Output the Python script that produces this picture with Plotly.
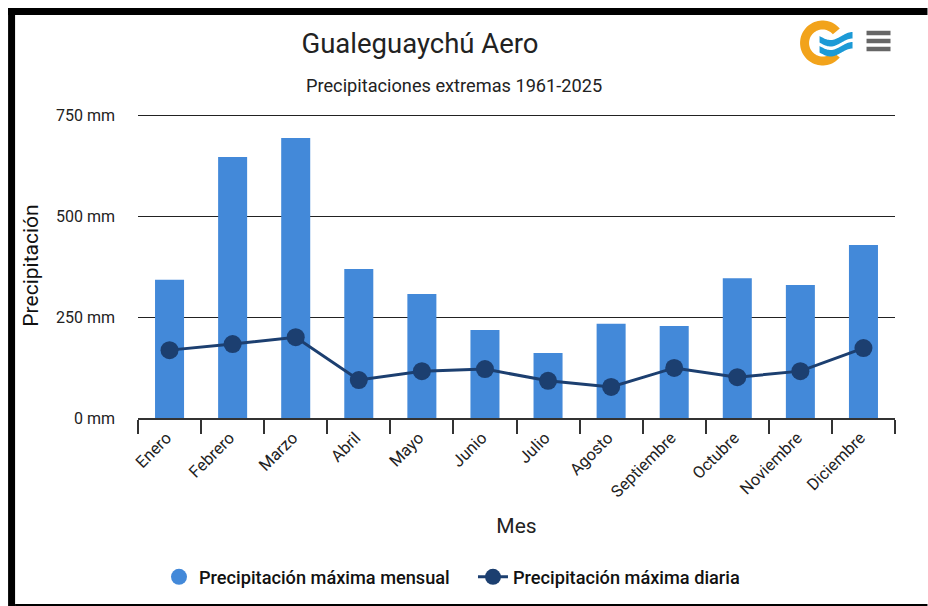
import numpy as np
import plotly.graph_objects as go

months = ["Enero","Febrero","Marzo","Abril","Mayo","Junio","Julio","Agosto","Septiembre","Octubre","Noviembre","Diciembre"]
max_mensual = [342,646,693,369,307,218,161,233,228,346,329,428]
max_diaria = [168,183,200,94,116,121,92,77,124,101,116,173]
name_mensual = "Precipitación máxima mensual"
name_diaria = "Precipitación máxima diaria"
y_ticks = [0,250,500,750]
y_tick_labels = ["0 mm","250 mm","500 mm","750 mm"]

W, H = 928, 606
L, R, T, B = 138, 895.5, 113, 418
BLUE, NAVY = "#4389d9", "#1c3f70"
FONT = "Roboto, Arial, sans-serif"

def px(x): return (x-L)/(R-L)
def py(y): return (B-y)/(B-T)
def path(points, close=True):
    s = "M " + " L ".join(f"{px(x):.5f},{py(y):.5f}" for x,y in points)
    return s + (" Z" if close else "")

fig = go.Figure()
fig.add_trace(go.Bar(x=months, y=max_mensual, marker_color=BLUE, marker_line_width=0, showlegend=False, name=name_mensual))
fig.add_trace(go.Scatter(x=[months[0]], y=[None], mode="markers", marker=dict(color=BLUE, size=18, symbol="circle"), name=name_mensual))
fig.add_trace(go.Scatter(x=months, y=max_diaria, mode="lines+markers", name=name_diaria,
    line=dict(color=NAVY, width=3), marker=dict(color=NAVY, size=18, symbol="circle")))

shapes = []
for x0,y0,x1,y1 in [(8,8,928,15),(8,8,15,606),(15,604,928,606)]:
    shapes.append(dict(type="rect", xref="paper", yref="paper", x0=px(x0), x1=px(x1), y0=py(y0), y1=py(y1),
                       fillcolor="black", line_width=0, layer="above"))
th = np.radians(np.linspace(40, 320, 60))
cx, cy, ro, ri = 823, 43, 22.5, 13.5
ring = [(cx+ro*np.cos(t), cy-ro*np.sin(t)) for t in th] + [(cx+ri*np.cos(t), cy-ri*np.sin(t)) for t in th[::-1]]
shapes.append(dict(type="path", xref="paper", yref="paper", path=path(ring), fillcolor="#f2a31b", line_width=0, layer="above"))
for dy in (0, 10):
    ts = np.linspace(0, 1, 30)
    top = [(820+33*t, 36+dy+4*np.sin(1.5*np.pi*t)) for t in ts]
    bot = [(820+33*t, 42.5+dy+4*np.sin(1.5*np.pi*t)) for t in ts[::-1]]
    shapes.append(dict(type="path", xref="paper", yref="paper", path=path(top+bot), fillcolor="#1c9ad6", line_width=0, layer="above"))
for y in (33, 41, 49):
    shapes.append(dict(type="line", xref="paper", yref="paper", x0=px(867), x1=px(891), y0=py(y), y1=py(y),
                       line=dict(color="#666666", width=4.5), layer="above"))

fig.update_layout(
    width=W, height=H, margin=dict(l=L, r=W-R, t=T, b=H-B, autoexpand=False),
    paper_bgcolor="white", plot_bgcolor="white", font=dict(family=FONT, color="#111111"),
    title=dict(text="Gualeguaychú Aero", font=dict(size=27.5, color="#222222"), x=420/W, xanchor="center", y=1-43/H, yanchor="middle"),
    shapes=shapes, bargap=0.54,
    annotations=[dict(text="Precipitaciones extremas 1961-2025", xref="paper", yref="paper", x=px(454), y=py(85),
                      xanchor="center", yanchor="middle", showarrow=False, font=dict(size=18.2, color="#222222"))],
    legend=dict(orientation="h", x=px(159), xanchor="left", y=py(577), yanchor="middle", entrywidth=269, entrywidthmode="pixels",
                font=dict(size=18.2, color="#111111", weight=500), bgcolor="rgba(0,0,0,0)", traceorder="normal"),
)
fig.update_xaxes(title=dict(text="Mes", font=dict(size=21, color="#222222"), standoff=18), tickangle=-45, tickson="boundaries",
    range=[-0.5, 11.5], ticks="outside", ticklen=14, tickwidth=1.5, tickcolor="#333333", showline=True, linecolor="#333333", linewidth=1.5,
    tickfont=dict(size=16.5, color="#222222"), ticklabelshift=-3, ticklabelstandoff=2, showgrid=False, categoryorder="array", categoryarray=months)
fig.update_yaxes(title=dict(text="Precipitación", font=dict(size=21, color="#111111"), standoff=11), range=[0,755],
    tickvals=y_ticks, ticktext=y_tick_labels, ticks="", tickfont=dict(size=16, color="#222222"), ticklabelstandoff=22,
    showgrid=True, gridcolor="#222222", gridwidth=1.4, zeroline=False, showline=False)
fig.write_html("out.html", config=dict(displayModeBar=False), post_script="document.body.style.margin='0';document.body.style.overflow='hidden';")
